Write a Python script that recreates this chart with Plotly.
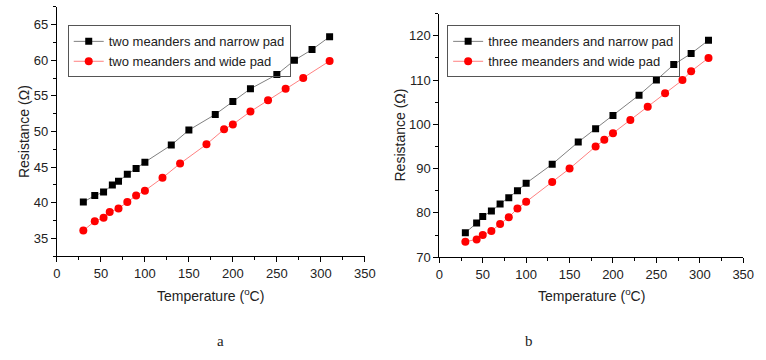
import plotly.graph_objects as go

# ---- data: panel a ----
a_narrow_T = [30, 43, 53, 63, 70, 80, 90, 100, 130, 150, 180, 200, 220, 250, 270, 290, 310]
a_narrow_R = [40.1, 41.0, 41.5, 42.5, 43.0, 44.0, 44.8, 45.7, 48.1, 50.2, 52.4, 54.2, 56.0, 58.0, 60.0, 61.5, 63.3]
a_wide_T = [30, 43, 53, 60, 70, 80, 90, 100, 120, 140, 170, 190, 200, 220, 240, 260, 280, 310]
a_wide_R = [36.1, 37.4, 37.9, 38.7, 39.2, 40.1, 41.0, 41.7, 43.5, 45.5, 48.2, 50.3, 51.0, 52.8, 54.4, 56.0, 57.5, 59.9]

# ---- data: panel b ----
b_narrow_T = [30, 43, 50, 60, 70, 80, 90, 100, 130, 160, 180, 200, 230, 250, 270, 290, 310]
b_narrow_R = [75.5, 77.7, 79.2, 80.4, 82.0, 83.4, 85.0, 86.7, 91.0, 96.0, 99.0, 102.0, 106.6, 110.0, 113.5, 116.0, 119.0]
b_wide_T = [30, 43, 50, 60, 70, 80, 90, 100, 130, 150, 180, 190, 200, 220, 240, 260, 280, 290, 310]
b_wide_R = [73.5, 74.0, 75.0, 75.9, 77.5, 79.0, 81.0, 82.5, 87.0, 90.0, 95.0, 96.5, 98.0, 101.0, 104.0, 107.0, 110.0, 112.0, 115.0]

names_a = ["two meanders and narrow pad", "two meanders and wide pad"]
names_b = ["three meanders and narrow pad", "three meanders and wide pad"]
panel_labels = ["a", "b"]
x_title = "Temperature (<sup>o</sup>C)"
y_title = "Resistance (\u03a9)"

W, H = 766, 360
FONT = "Liberation Sans, Arial, sans-serif"

def px(x):
    return min(1.0, max(0.0, x / W))

def py(y):
    return min(1.0, max(0.0, 1 - y / H))

black_line = "#808080"
red_line = "#ff8080"

fig = go.Figure()

fig.add_trace(go.Scatter(x=a_narrow_T, y=a_narrow_R, name=names_a[0], mode="lines+markers",
                         line=dict(color=black_line, width=1),
                         marker=dict(symbol="square", size=7, color="#000000"),
                         xaxis="x", yaxis="y", legend="legend"))
fig.add_trace(go.Scatter(x=a_wide_T, y=a_wide_R, name=names_a[1], mode="lines+markers",
                         line=dict(color=red_line, width=1),
                         marker=dict(symbol="circle", size=8, color="#ff0000"),
                         xaxis="x", yaxis="y", legend="legend"))
fig.add_trace(go.Scatter(x=b_narrow_T, y=b_narrow_R, name=names_b[0], mode="lines+markers",
                         line=dict(color=black_line, width=1),
                         marker=dict(symbol="square", size=7, color="#000000"),
                         xaxis="x2", yaxis="y2", legend="legend2"))
fig.add_trace(go.Scatter(x=b_wide_T, y=b_wide_R, name=names_b[1], mode="lines+markers",
                         line=dict(color=red_line, width=1),
                         marker=dict(symbol="circle", size=8, color="#ff0000"),
                         xaxis="x2", yaxis="y2", legend="legend2"))

axis_common = dict(showline=True, linecolor="#000000", linewidth=1, showgrid=False, zeroline=False,
                   ticks="outside", ticklen=5, tickcolor="#000000", tickwidth=1,
                   tickfont=dict(family=FONT, size=13, color="#222222"), mirror=False)

fig.update_layout(
    width=W, height=H,
    margin=dict(l=0, r=0, t=0, b=0),
    paper_bgcolor="white", plot_bgcolor="white",
    font=dict(family=FONT, size=13, color="#222222"),
    xaxis=dict(domain=[px(54), px(368)], range=[0, 350], dtick=50, anchor="y",
               minor=dict(dtick=25, ticks="outside", ticklen=3, tickcolor="#000000"), **axis_common),
    yaxis=dict(domain=[py(262), py(7)], range=[32.5, 67.5], tick0=35, dtick=5, anchor="x",
               minor=dict(dtick=2.5, ticks="outside", ticklen=3, tickcolor="#000000"), **axis_common),
    xaxis2=dict(domain=[px(444), px(754)], range=[0, 350], dtick=50, anchor="y2",
                minor=dict(dtick=25, ticks="outside", ticklen=3, tickcolor="#000000"), **axis_common),
    yaxis2=dict(domain=[py(263), py(14)], range=[70, 125], dtick=10, anchor="x2",
                minor=dict(dtick=5, ticks="outside", ticklen=3, tickcolor="#000000"), **axis_common),
    legend=dict(x=px(65), y=py(26), xanchor="left", yanchor="top", bordercolor="#555555", borderwidth=1,
                bgcolor="rgba(255,255,255,0)", font=dict(family=FONT, size=13, color="#222222"),
                itemwidth=30, tracegroupgap=0),
    legend2=dict(x=px(452), y=py(26), xanchor="left", yanchor="top", bordercolor="#555555", borderwidth=1,
                 bgcolor="rgba(255,255,255,0)", font=dict(family=FONT, size=13, color="#222222"),
                 itemwidth=30, tracegroupgap=0),
    showlegend=True,
)

title_font = dict(family=FONT, size=14, color="#222222")
ann = []
ann.append(dict(text=y_title, x=px(20), y=py(134.5), xref="paper", yref="paper", textangle=-90,
                showarrow=False, xanchor="center", yanchor="middle", font=title_font))
ann.append(dict(text=y_title, x=px(404), y=py(138.5), xref="paper", yref="paper", textangle=-90,
                showarrow=False, xanchor="center", yanchor="middle", font=title_font))
ann.append(dict(text=x_title, x=px(211), y=py(302), xref="paper", yref="paper",
                showarrow=False, xanchor="center", yanchor="middle", font=title_font))
ann.append(dict(text=x_title, x=px(599), y=py(302), xref="paper", yref="paper",
                showarrow=False, xanchor="center", yanchor="middle", font=title_font))
ann.append(dict(text=panel_labels[0], x=px(221), y=py(349), xref="paper", yref="paper",
                showarrow=False, xanchor="center", yanchor="middle",
                font=dict(family="Liberation Serif, Times New Roman, serif", size=15, color="#222222")))
ann.append(dict(text=panel_labels[1], x=px(535), y=py(349), xref="paper", yref="paper",
                showarrow=False, xanchor="center", yanchor="middle",
                font=dict(family="Liberation Serif, Times New Roman, serif", size=15, color="#222222")))
fig.update_layout(annotations=ann)

fig.write_html(
    "out.html",
    config={"displayModeBar": False},
    post_script="document.documentElement.style.margin='0';document.body.style.margin='0';"
                "document.body.style.overflow='hidden';",
)
